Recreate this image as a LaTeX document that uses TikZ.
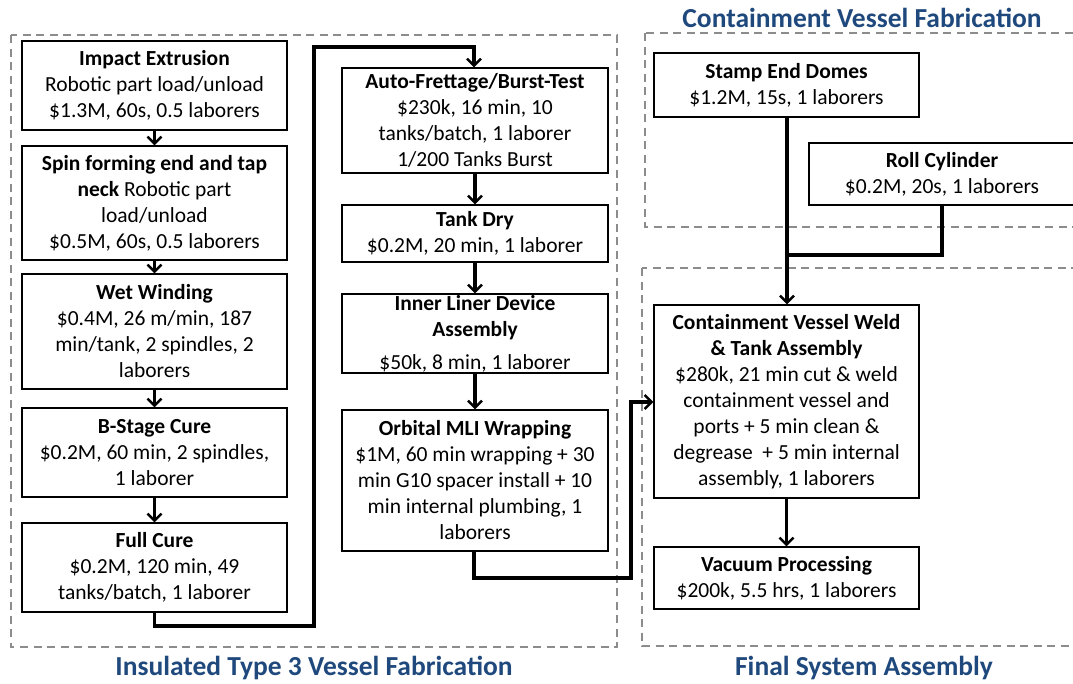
\documentclass[tikz,border=0pt]{standalone}
\usepackage{fontspec}
\setmainfont{Carlito}
\usetikzlibrary{arrows.meta}
\definecolor{ttl}{RGB}{31,73,125}
\definecolor{grp}{RGB}{140,140,140}
\tikzset{
  stepbox/.style={draw=black,line width=1.4pt,fill=white,align=center,inner sep=0pt,
    font=\fontsize{21.5}{26}\selectfont},
  grpbox/.style={draw=grp,line width=2pt,dash pattern=on 8pt off 5.5pt},
  flow/.style={line width=3.2pt,-{Straight Barb[length=7pt,width=14pt,line width=2.4pt]}},
  title/.style={text=ttl,font=\fontsize{27.5}{32}\selectfont\bfseries},
}
\begin{document}
\begin{tikzpicture}[x=1pt,y=-1pt]
\useasboundingbox (0,0) rectangle (1073,683);
\clip (0,0) rectangle (1073,683);
% groups
\draw[grpbox] (11,35) rectangle (617,647);
\draw[grpbox] (645,33) rectangle (1090,227);
\draw[grpbox] (642,268) rectangle (1090,646);
% titles
\node[title] (t1) at (314,668) {Insulated Type 3 Vessel Fabrication};
\node[title] (t2) at (862,18) {Containment Vessel Fabrication};
\node[title] (t3) at (864,668) {Final System Assembly};
% left column
\node[stepbox,minimum width=265,minimum height=89] (imp) at (154.5,85.5)
  {\textbf{Impact Extrusion}\\Robotic part load/unload\\\$1.3M, 60s, 0.5 laborers};
\node[stepbox,minimum width=265,minimum height=114] (spin) at (154.5,203)
  {\textbf{Spin forming end and tap}\\\textbf{neck} Robotic part\\load/unload\\\$0.5M, 60s, 0.5 laborers};
\node[stepbox,minimum width=265,minimum height=115] (wet) at (154.5,331.5)
  {\textbf{Wet Winding}\\\$0.4M, 26 m/min, 187\\min/tank, 2 spindles, 2\\laborers};
\node[stepbox,minimum width=265,minimum height=89] (bst) at (154.5,452.5)
  {\textbf{B-Stage Cure}\\\$0.2M, 60 min, 2 spindles,\\1 laborer};
\node[stepbox,minimum width=265,minimum height=89] (full) at (154.5,567.5)
  {\textbf{Full Cure}\\\$0.2M, 120 min, 49\\tanks/batch, 1 laborer};
% middle column
\node[stepbox,minimum width=266,minimum height=105] (auto) at (475,120.5)
  {\textbf{Auto-Frettage/Burst-Test}\\\$230k, 16 min, 10\\tanks/batch, 1 laborer\\1/200 Tanks Burst};
\node[stepbox,minimum width=266,minimum height=57] (dry) at (475,233.5)
  {\textbf{Tank Dry}\\\$0.2M, 20 min, 1 laborer};
\node[stepbox,minimum width=266,minimum height=79] (inner) at (475,333.5)
  {\textbf{Inner Liner Device}\\\textbf{Assembly}\\[7pt]\$50k, 8 min, 1 laborer};
\node[stepbox,minimum width=266,minimum height=141] (mli) at (475,480.5)
  {\textbf{Orbital MLI Wrapping}\\\$1M, 60 min wrapping + 30\\min G10 spacer install + 10\\min internal plumbing, 1\\laborers};
% right column
\node[stepbox,minimum width=265,minimum height=64] (stamp) at (786.5,85)
  {\textbf{Stamp End Domes}\\\$1.2M, 15s, 1 laborers};
\node[stepbox,minimum width=266,minimum height=62] (roll) at (942,174)
  {\textbf{Roll Cylinder}\\\$0.2M, 20s, 1 laborers};
\node[stepbox,minimum width=265,minimum height=193] (weld) at (786.5,401.5)
  {\textbf{Containment Vessel Weld}\\\textbf{\& Tank Assembly}\\\$280k, 21 min cut \& weld\\containment vessel and\\ports + 5 min clean \&\\degrease~ + 5 min internal\\assembly, 1 laborers};
\node[stepbox,minimum width=265,minimum height=62] (vac) at (786.5,578)
  {\textbf{Vacuum Processing}\\\$200k, 5.5 hrs, 1 laborers};
% connectors
\draw[flow] (imp) -- (spin);
\draw[flow] (spin) -- (wet);
\draw[flow] (wet) -- (bst);
\draw[flow] (bst) -- (full);
\draw[flow] (full.south) |- (314,626) |- (474,47) -- (auto.north -| 474,0);
\draw[flow] (auto) -- (dry);
\draw[flow] (dry) -- (inner);
\draw[flow] (inner) -- (mli);
\draw[flow] (mli.south -| 474,0) |- (631,578) |- (weld.west |- 0,402);
\draw[flow] (stamp.south -| 787,0) -- (weld.north -| 787,0);
\coordinate (j) at (787,255);
\draw[line width=3.2pt] (roll.south) |- (j);
\draw[flow] (weld) -- (vac);
\end{tikzpicture}
\end{document}
